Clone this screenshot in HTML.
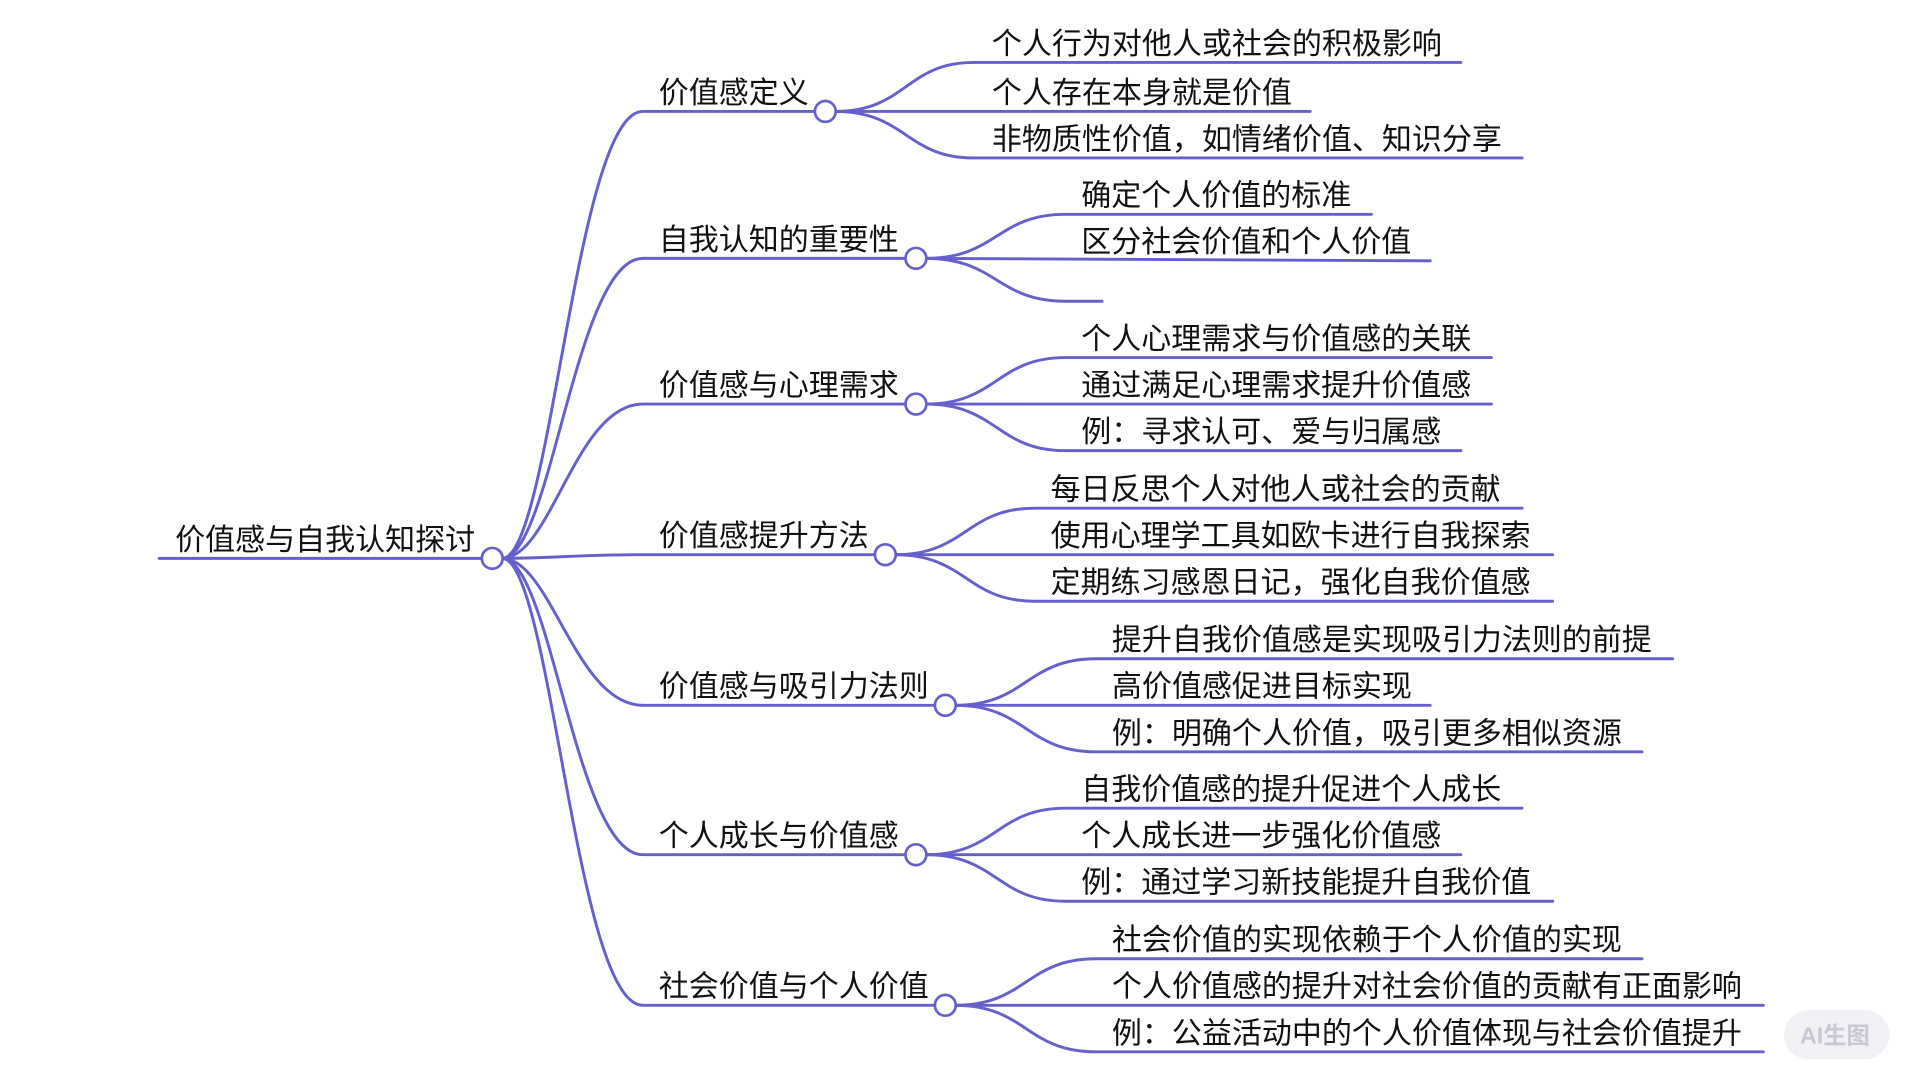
<!DOCTYPE html>
<html><head><meta charset="utf-8"><style>
html,body{margin:0;padding:0;background:#fff;}
svg{display:block}
text{font-family:"Liberation Sans","Noto Sans CJK SC",sans-serif;font-size:24.5px;fill:#111;}
</style></head><body>
<svg width="1920" height="1080" viewBox="0 0 1568 882" xmlns="http://www.w3.org/2000/svg">
<g fill="none" stroke="#6660cc" stroke-width="2.4" stroke-linecap="round">
<line x1="130" y1="456" x2="394" y2="456"/>
<path d="M410,456 C450,456 470,91 525,91 L666,91"/>
<path d="M410,456 C450,456 470,211 525,211 L740,211"/>
<path d="M410,456 C450,456 470,330 525,330 L740,330"/>
<path d="M410,456 C450,456 470,453 525,453 L715,453"/>
<path d="M410,456 C450,456 470,576 525,576 L764,576"/>
<path d="M410,456 C450,456 470,698 525,698 L740,698"/>
<path d="M410,456 C450,456 470,821 525,821 L764,821"/>
<path d="M682,91 C740,91 740,51 795,51 L1193,51"/>
<path d="M682,91 L1070,91"/>
<path d="M682,91 C740,91 740,129 795,129 L1243,129"/>
<path d="M756,211 C814,211 814,175 870,175 L1120,175"/>
<path d="M756,211 L1168,213"/>
<path d="M756,211 C814,211 814,246 870,246 L900,246"/>
<path d="M756,330 C814,330 814,292 870,292 L1218,292"/>
<path d="M756,330 L1218,330"/>
<path d="M756,330 C814,330 814,368 870,368 L1193,368"/>
<path d="M731,453 C789,453 789,415 845,415 L1243,415"/>
<path d="M731,453 L1268,453"/>
<path d="M731,453 C789,453 789,491 845,491 L1268,491"/>
<path d="M780,576 C838,576 838,538 895,538 L1366,538"/>
<path d="M780,576 L1168,576"/>
<path d="M780,576 C838,576 838,614 895,614 L1341,614"/>
<path d="M756,698 C814,698 814,660 870,660 L1243,660"/>
<path d="M756,698 L1193,698"/>
<path d="M756,698 C814,698 814,736 870,736 L1268,736"/>
<path d="M780,821 C838,821 838,783 895,783 L1341,783"/>
<path d="M780,821 L1440,821"/>
<path d="M780,821 C838,821 838,859 895,859 L1440,859"/>
</g>
<g fill="#fff" stroke="#6660cc" stroke-width="2.2">
<circle cx="402" cy="456" r="8.5"/>
<circle cx="674" cy="91" r="8.5"/>
<circle cx="748" cy="211" r="8.5"/>
<circle cx="748" cy="330" r="8.5"/>
<circle cx="723" cy="453" r="8.5"/>
<circle cx="772" cy="576" r="8.5"/>
<circle cx="748" cy="698" r="8.5"/>
<circle cx="772" cy="821" r="8.5"/>
</g>
<text x="143" y="449">价值感与自我认知探讨</text>
<text x="538" y="84">价值感定义</text>
<text x="538" y="204">自我认知的重要性</text>
<text x="538" y="323">价值感与心理需求</text>
<text x="538" y="446">价值感提升方法</text>
<text x="538" y="569">价值感与吸引力法则</text>
<text x="538" y="691">个人成长与价值感</text>
<text x="538" y="814">社会价值与个人价值</text>

<text x="810" y="44">个人行为对他人或社会的积极影响</text>
<text x="810" y="84">个人存在本身就是价值</text>
<text x="810" y="122">非物质性价值，如情绪价值、知识分享</text>
<text x="883" y="168">确定个人价值的标准</text>
<text x="883" y="206">区分社会价值和个人价值</text>
<text x="883" y="285">个人心理需求与价值感的关联</text>
<text x="883" y="323">通过满足心理需求提升价值感</text>
<text x="883" y="361">例：寻求认可、爱与归属感</text>
<text x="858" y="408">每日反思个人对他人或社会的贡献</text>
<text x="858" y="446">使用心理学工具如欧卡进行自我探索</text>
<text x="858" y="484">定期练习感恩日记，强化自我价值感</text>
<text x="908" y="531">提升自我价值感是实现吸引力法则的前提</text>
<text x="908" y="569">高价值感促进目标实现</text>
<text x="908" y="607">例：明确个人价值，吸引更多相似资源</text>
<text x="883" y="653">自我价值感的提升促进个人成长</text>
<text x="883" y="691">个人成长进一步强化价值感</text>
<text x="883" y="729">例：通过学习新技能提升自我价值</text>
<text x="908" y="776">社会价值的实现依赖于个人价值的实现</text>
<text x="908" y="814">个人价值感的提升对社会价值的贡献有正面影响</text>
<text x="908" y="852">例：公益活动中的个人价值体现与社会价值提升</text>

<rect x="1457" y="825" width="86" height="40" rx="20" fill="#f1f1f5"/>
<text x="1470" y="852" style="font-size:19px;fill:#c8c8d4;font-weight:bold">AI生图</text>
</svg>
</body></html>
